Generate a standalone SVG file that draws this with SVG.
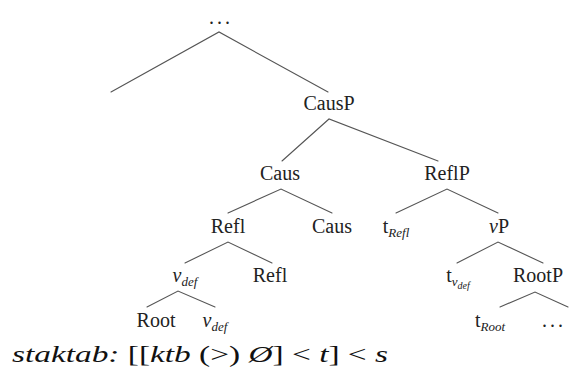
<svg xmlns="http://www.w3.org/2000/svg" width="578" height="371" viewBox="0 0 578 371">
  <rect width="578" height="371" fill="#ffffff"/>

  <!-- branches: every node's two daughters hang from one apex -->
  <g id="connectors" stroke="#555" stroke-width="1.1" fill="none" stroke-linecap="round">
    <path d="M111 92 L219 32 L328 92"/>
    <path d="M282 161 L329 119 L438 161"/>
    <path d="M228 213 L281 189 L332 213"/>
    <path d="M396 213 L447 189 L498 213"/>
    <path d="M185 263 L228 242 L272 263"/>
    <path d="M457 263 L498 242 L543 263"/>
    <path d="M147 307 L178 291 L215 307"/>
    <path d="M500 307 L535 292 L568 307"/>
  </g>

  <!-- tree labels -->
  <g id="top"><text font-family="Liberation Serif" font-size="20" fill="#222" text-anchor="middle" letter-spacing="3" x="221" y="24">...</text></g>
  <g id="causp"><text font-family="Liberation Serif" font-size="20" fill="#222" text-anchor="middle" x="329" y="110">CausP</text></g>
  <g id="caus-bar"><text font-family="Liberation Serif" font-size="20" fill="#222" text-anchor="middle" x="280" y="180">Caus</text></g>
  <g id="reflp"><text font-family="Liberation Serif" font-size="20" fill="#222" text-anchor="middle" x="447" y="180">ReflP</text></g>
  <g id="refl-bar"><text font-family="Liberation Serif" font-size="20" fill="#222" text-anchor="middle" x="228" y="233">Refl</text></g>
  <g id="caus-head"><text font-family="Liberation Serif" font-size="20" fill="#222" text-anchor="middle" x="332" y="233">Caus</text></g>
  <g id="t-refl"><text font-family="Liberation Serif" font-size="20" fill="#222" text-anchor="middle" x="396" y="233">t<tspan font-size="13" font-style="italic" dy="4">Refl</tspan></text></g>
  <g id="vp"><text font-family="Liberation Serif" font-size="20" fill="#222" text-anchor="middle" x="499" y="233"><tspan font-style="italic">v</tspan>P</text></g>
  <g id="vdef-bar"><text font-family="Liberation Serif" font-size="20" fill="#222" text-anchor="middle" x="185" y="282"><tspan font-style="italic">v</tspan><tspan font-size="13" font-style="italic" dy="4">def</tspan></text></g>
  <g id="refl-head"><text font-family="Liberation Serif" font-size="20" fill="#222" text-anchor="middle" x="270" y="282">Refl</text></g>
  <g id="t-vdef"><text font-family="Liberation Serif" font-size="20" fill="#222" text-anchor="middle" x="458" y="282">t<tspan font-size="13" font-style="italic" dy="4">v</tspan><tspan font-size="10" font-style="italic" dy="3">def</tspan></text></g>
  <g id="rootp"><text font-family="Liberation Serif" font-size="20" fill="#222" text-anchor="middle" x="538" y="282">RootP</text></g>
  <g id="root"><text font-family="Liberation Serif" font-size="20" fill="#222" text-anchor="middle" x="156" y="327">Root</text></g>
  <g id="vdef-head"><text font-family="Liberation Serif" font-size="20" fill="#222" text-anchor="middle" x="215" y="327"><tspan font-style="italic">v</tspan><tspan font-size="13" font-style="italic" dy="4">def</tspan></text></g>
  <g id="t-root"><text font-family="Liberation Serif" font-size="20" fill="#222" text-anchor="middle" x="490" y="327">t<tspan font-size="13" font-style="italic" dy="4">Root</tspan></text></g>
  <g id="dots"><text font-family="Liberation Serif" font-size="20" fill="#222" text-anchor="middle" letter-spacing="3" x="554" y="327">...</text></g>

  <g id="caption">
    <text font-family="Liberation Serif" font-size="24" fill="#111" x="12" y="362" textLength="376" lengthAdjust="spacingAndGlyphs"><tspan font-style="italic">staktab:</tspan> [[<tspan font-style="italic">ktb</tspan> (&gt;) <tspan font-style="italic">&#216;</tspan>] &lt; <tspan font-style="italic">t</tspan>] &lt; <tspan font-style="italic">s</tspan></text>
  </g>
</svg>
